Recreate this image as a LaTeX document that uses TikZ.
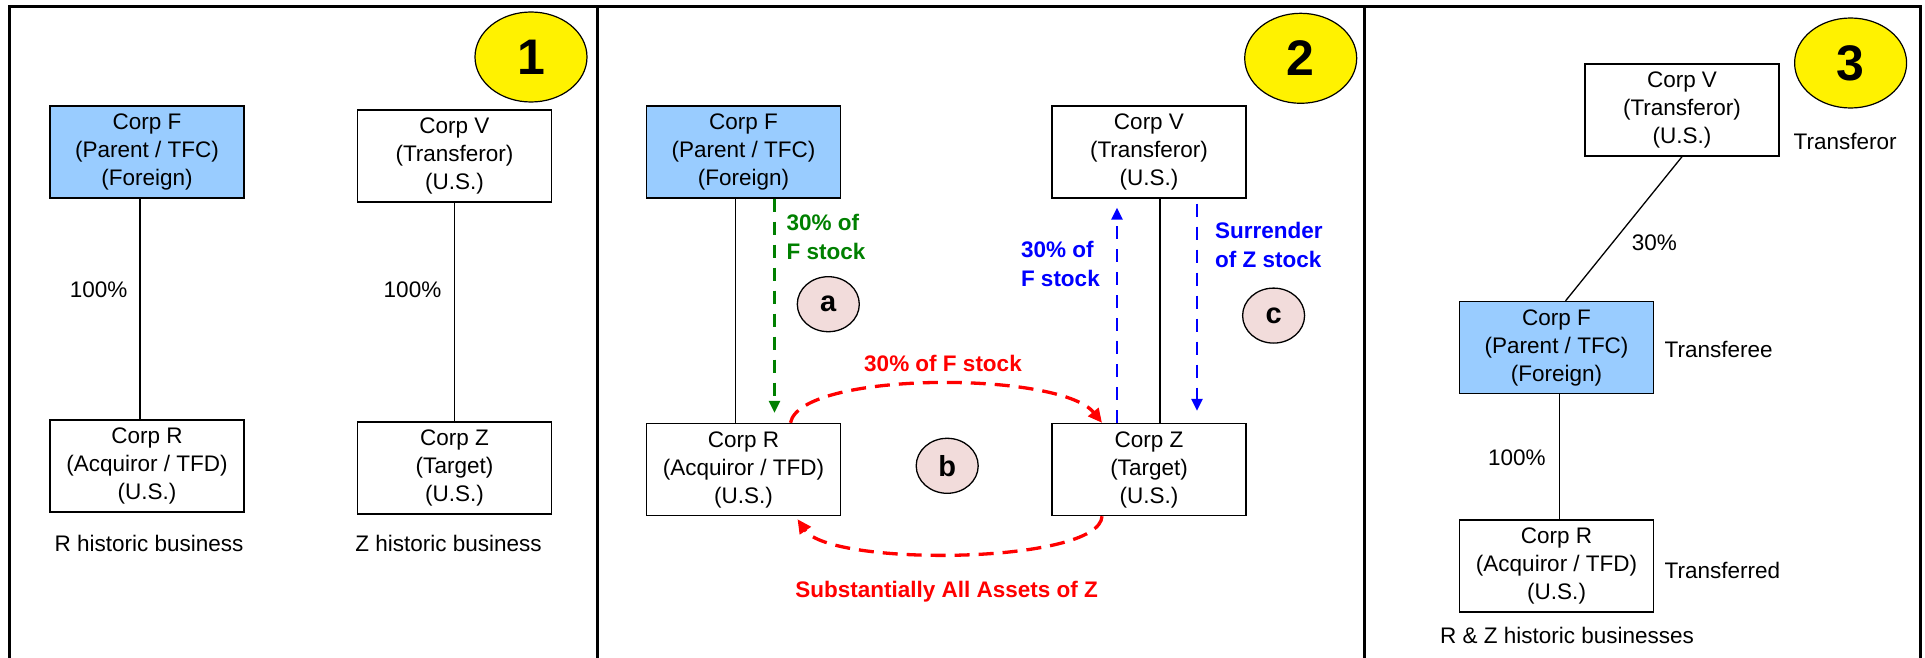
\documentclass[tikz,border=0pt]{standalone}
\usepackage{fontspec}
\setmainfont{Liberation Sans}
\usetikzlibrary{arrows.meta,shapes.geometric}
\definecolor{tfcblue}{HTML}{99CCFF}
\definecolor{stepgreen}{HTML}{008000}
\definecolor{steppink}{HTML}{F2DCDB}

\begin{document}
\begin{tikzpicture}[%
      x=1pt, y=-1pt,
      font=\fontsize{22.5}{28}\selectfont,
      corp/.style={draw, line width=1.4pt, minimum width=194pt, minimum height=92pt, align=center, inner sep=0pt},
      foreign/.style={corp, fill=tfcblue},
      own/.style={line width=1.3pt},
      note/.style={inner sep=0pt},
      bnote/.style={inner sep=0pt, align=left, font=\fontsize{22.5}{29}\selectfont\bfseries},
      phase/.style={ellipse, draw, line width=1.2pt, fill=yellow, minimum width=112pt, minimum height=90pt, inner sep=0pt, font=\fontsize{50}{50}\selectfont\bfseries},
      stepmark/.style={ellipse, draw, line width=1.3pt, fill=steppink, minimum width=62pt, minimum height=55pt, inner sep=0pt, font=\fontsize{29}{29}\selectfont\bfseries},
      flow/.style={line width=2.6pt, dash pattern=on 13pt off 10pt, -{Triangle[length=12pt,width=11pt]}},
      redflow/.style={red, line width=3.3pt, dash pattern=on 15pt off 9pt, -{Triangle[length=14pt,width=13pt]}},
      ]
      \useasboundingbox (0,0) rectangle (1925,658);

      % frame
      \draw [line width=3pt] (9.5,658) -- (9.5,6.5) -- (1920,6.5) -- (1920,658);
      \draw [line width=3pt] (597.3,6.5) -- (597.3,658);
      \draw [line width=3pt] (1364.3,6.5) -- (1364.3,658);

      % panel 1
      \node [phase] (n1) at (531,57) {1};
      \node [foreign] (F1) at (147,152) {Corp F\\(Parent / TFC)\\(Foreign)};
      \node [corp] (V1) at (454.5,156) {Corp V\\(Transferor)\\(U.S.)};
      \node [corp] (R1) at (147,466) {Corp R\\(Acquiror / TFD)\\(U.S.)};
      \node [corp] (Z1) at (454.5,468) {Corp Z\\(Target)\\(U.S.)};
      \draw [own] ([xshift=-7pt]F1.south) -- ([xshift=-7pt]R1.north);
      \draw [own] (V1.south) -- (Z1.north);
      \node [note] (p1a) at (98.7,290) {100\%};
      \node [note] (p1b) at (412.5,290) {100\%};
      \node [note] (h1a) at (149,543) {R historic business};
      \node [note] (h1b) at (448.5,543) {Z historic business};

      % panel 2
      \node [phase] (n2) at (1300.7,58.3) {2};
      \node [foreign] (F2) at (743.5,152) {Corp F\\(Parent / TFC)\\(Foreign)};
      \node [corp] (V2) at (1149,152) {Corp V\\(Transferor)\\(U.S.)};
      \node [corp] (R2) at (743.5,469.5) {Corp R\\(Acquiror / TFD)\\(U.S.)};
      \node [corp] (Z2) at (1149,469.5) {Corp Z\\(Target)\\(U.S.)};
      \draw [own] ([xshift=-8pt]F2.south) -- ([xshift=-8pt]R2.north);
      \draw [own] ([xshift=11pt]V2.south) -- ([xshift=11pt]Z2.north);

      \draw [flow, stepgreen] ([xshift=31pt]F2.south) -- ([xshift=31pt,yshift=10pt]R2.north);
      \node [bnote, text=stepgreen, anchor=west] (ga) at (786.5,236.5) {30\% of\\F stock};
      \node [stepmark] (sa) at (828.3,304.2) {a};

      \draw [flow, blue] ([xshift=-32pt]Z2.north) -- ([xshift=-32pt,yshift=-9pt]V2.south);
      \node [bnote, text=blue, anchor=west] (bc1) at (1020.8,264) {30\% of\\F stock};
      \draw [flow, blue] ([xshift=48pt,yshift=-5pt]V2.south) -- ([xshift=48pt,yshift=12pt]Z2.north);
      \node [bnote, text=blue, anchor=west] (bc2) at (1214.9,245) {Surrender\\of Z stock};
      \node [stepmark] (sc) at (1273.6,315.6) {c};

      \draw [redflow] ([xshift=47pt]R2.north) .. controls +(10,-52) and +(-42,-52) .. ([xshift=-47pt]Z2.north);
      \node [bnote, text=red] (rb1) at (943,363) {30\% of F stock};
      \node [stepmark] (sb) at (947.2,465.8) {b};
      \draw [redflow] ([xshift=-47pt]Z2.south) .. controls +(-2,48) and +(33,48) .. ([xshift=54pt,yshift=-3pt]R2.south);
      \node [bnote, text=red] (rb2) at (946.7,591.7) {Substantially All Assets of Z};

      % panel 3
      \node [phase] (n3) at (1850.6,63) {3};
      \node [corp] (V3) at (1682,110) {Corp V\\(Transferor)\\(U.S.)};
      \node [foreign] (F3) at (1556.6,347.5) {Corp F\\(Parent / TFC)\\(Foreign)};
      \node [corp] (R3) at (1556.6,566) {Corp R\\(Acquiror / TFD)\\(U.S.)};
      \draw [own] (V3.south) -- ([xshift=9pt]F3.north);
      \draw [own] ([xshift=3pt]F3.south) -- ([xshift=3pt]R3.north);
      \node [note] (p3a) at (1654.4,242.6) {30\%};
      \node [note] (p3b) at (1516.8,458.2) {100\%};
      \node [note, anchor=west] (t3a) at (1793.5,141.4) {Transferor};
      \node [note, anchor=west] (t3b) at (1664.5,349) {Transferee};
      \node [note, anchor=west] (t3c) at (1664.5,570) {Transferred};
      \node [note] (h3) at (1567,635) {R \& Z historic businesses};
      \end{tikzpicture}
\end{document}
